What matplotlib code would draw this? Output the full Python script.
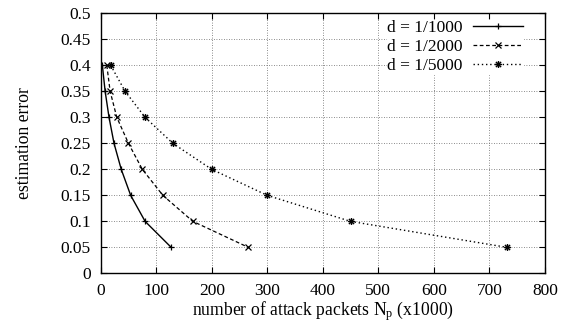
import matplotlib
matplotlib.use("Agg")
import matplotlib.pyplot as plt
from matplotlib.path import Path

# estimation error levels (shared by all series)
errors = [0.40, 0.35, 0.30, 0.25, 0.20, 0.15, 0.10, 0.05]

# attack packets needed (x1000)
packets_1000 = [3, 8, 15, 24, 37, 54, 80, 127]
packets_2000 = [11, 17, 29, 50, 75, 112, 166, 266]
packets_5000 = [18, 44, 80, 130, 200, 300, 450, 732]

labels = ["d = 1/1000", "d = 1/2000", "d = 1/5000"]
x_ticks = [0, 100, 200, 300, 400, 500, 600, 700, 800]
y_ticks = [0, 0.05, 0.1, 0.15, 0.2, 0.25, 0.3, 0.35, 0.4, 0.45, 0.5]
y_tick_labels = ["0", "0.05", "0.1", "0.15", "0.2", "0.25", "0.3", "0.35", "0.4", "0.45", "0.5"]

plt.rcParams["font.family"] = ["Liberation Serif", "DejaVu Serif"]
plt.rcParams["mathtext.fontset"] = "custom"
plt.rcParams["mathtext.rm"] = "Liberation Serif"

# gnuplot-like star: plus and cross overlaid
star = Path(
    [(-1, 0), (1, 0), (0, -1), (0, 1), (-0.75, -0.75), (0.75, 0.75), (-0.75, 0.75), (0.75, -0.75)],
    [Path.MOVETO, Path.LINETO] * 4,
)

fig = plt.figure(figsize=(5.67, 3.29), dpi=100)
ax = fig.add_axes([0.1776, 0.169, 0.7835, 0.7905])

ax.plot(packets_1000, errors, color="black", linestyle="-", linewidth=1.0,
        marker="+", markersize=4.5, markeredgewidth=0.9, label=labels[0])
ax.plot(packets_2000, errors, color="black", linestyle=(0, (3, 2)), linewidth=0.9,
        marker="x", markersize=4, markeredgewidth=0.9, label=labels[1])
ax.plot(packets_5000, errors, color="black", linestyle=(0, (1, 2)), linewidth=1.0,
        marker=star, markersize=5, markeredgewidth=1.0, label=labels[2])

ax.set_xlim(0, 800)
ax.set_ylim(0, 0.5)
ax.set_xticks(x_ticks)
ax.set_yticks(y_ticks)
ax.set_yticklabels(y_tick_labels)
ax.tick_params(direction="in", top=True, right=True, labelsize=12.5, length=4, pad=7)
ax.grid(True, color="#666666", linestyle=(0, (1, 2)), linewidth=0.6)
ax.set_axisbelow(True)
for spine in ax.spines.values():
    spine.set_linewidth(1.0)

ax.set_xlabel(r"number of attack packets $\mathrm{N_p}$ (x1000)", fontsize=12.7, labelpad=0)
ax.set_ylabel("estimation error", fontsize=12.7, labelpad=20)

leg = ax.legend(loc="upper right", bbox_to_anchor=(0.9506, 0.976), markerfirst=False,
                frameon=True, fontsize=12.5, handlelength=2.9, borderpad=0.0,
                borderaxespad=0.0, labelspacing=0.17, handletextpad=0.57)
leg.get_frame().set_edgecolor("white")
leg.get_frame().set_facecolor("white")
leg.get_frame().set_alpha(1.0)
leg.get_frame().set_boxstyle("square", pad=0)
for t in leg.get_texts():
    t.set_horizontalalignment("right")

fig.savefig("out.png", dpi=100)
